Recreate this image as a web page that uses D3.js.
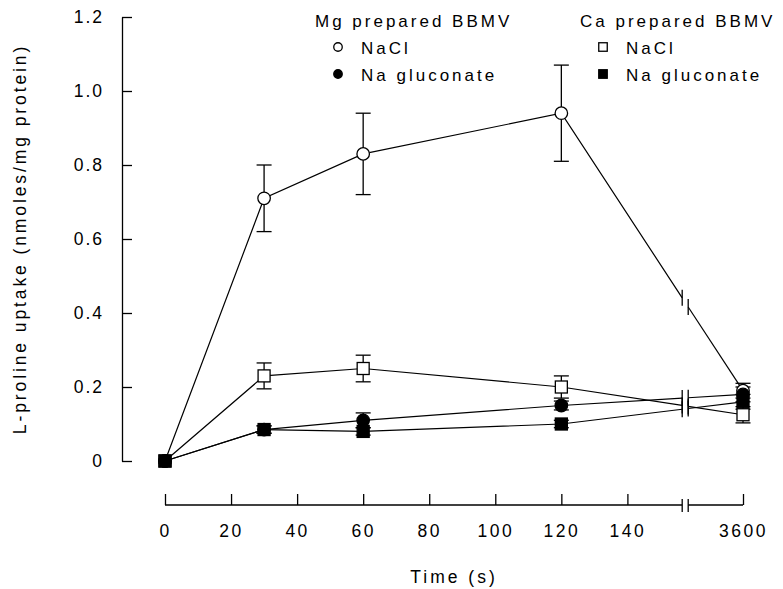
<!DOCTYPE html>
<html>
<head>
<meta charset="utf-8">
<script src="https://cdn.jsdelivr.net/npm/d3@7"></script>
<style>
body { margin: 0; background: #fff; }
text { font-family: "Liberation Sans", Arial, sans-serif; fill: #000; }
</style>
</head>
<body>
<div id="chart"></div>
<script>
// sampling times (s) and uptake values
var times = [0, 30, 60, 120, 3600];

var mgNaCl    = [0, 0.71, 0.83, 0.94, 0.19];
var mgNaClErr = [0, 0.09, 0.11, 0.13, 0.02];
var mgGluc    = [0, 0.085, 0.11, 0.15, 0.18];
var mgGlucErr = [0, 0.01, 0.02, 0.012, 0.02];
var caNaCl    = [0, 0.23, 0.25, 0.20, 0.125];
var caNaClErr = [0, 0.035, 0.036, 0.03, 0.022];
var caGluc    = [0, 0.085, 0.08, 0.10, 0.16];
var caGlucErr = [0, 0.01, 0.01, 0.01, 0.02];

var xTicks = [0, 20, 40, 60, 80, 100, 120, 140, 3600];
var yTicks = [0, 0.2, 0.4, 0.6, 0.8, 1.0, 1.2];

var series = [
	{values: mgNaCl, err: mgNaClErr, shape: "circle", filled: false},
	{values: caNaCl, err: caNaClErr, shape: "square", filled: false},
	{values: mgGluc, err: mgGlucErr, shape: "circle", filled: true},
	{values: caGluc, err: caGlucErr, shape: "square", filled: true}
];

var svg = d3.select("#chart")
	.append("svg")
	.attr("width", 783)
	.attr("height", 589);

// x: linear up to 150 s, then the broken stretch out to 3600 s
var unit = d3.scaleLinear().domain([0, 175]).range([165, 743]);
var xScale = d3.scaleLinear()
	.domain([0, 150, 3600])
	.range([unit(0), unit(150), unit(175)]);
var breakX = unit(157.5);
var bx1 = breakX - 3, bx2 = breakX + 3;

var yScale = d3.scaleLinear().domain([0, 1.2]).range([461, 17]);

var axisY = 505;

// y axis
var gy = svg.append("g")
	.attr("transform", "translate(122,0)")
	.call(d3.axisLeft(yScale)
		.tickValues(yTicks)
		.tickSize(-10)
		.tickSizeOuter(0)
		.tickPadding(18)
		.tickFormat(function(d) { return d === 0 ? "0" : d.toFixed(1); }));
gy.selectAll("path, line").attr("stroke", "#000").attr("stroke-width", 1.3);
gy.selectAll("text")
	.attr("font-family", null)
	.style("font-size", "17.5px")
	.style("letter-spacing", "2px");

// x axis
var gx = svg.append("g")
	.attr("transform", "translate(0," + axisY + ")")
	.call(d3.axisBottom(xScale)
		.tickValues(xTicks)
		.tickSize(-11)
		.tickSizeOuter(0)
		.tickPadding(20)
		.tickFormat(function(d) { return d; }));
gx.select(".domain").remove();
gx.selectAll("line").attr("stroke", "#000").attr("stroke-width", 1.3);
gx.selectAll("text")
	.attr("font-family", null)
	.style("font-size", "17.5px")
	.style("letter-spacing", "2.5px");

gx.append("line")
	.attr("x1", xScale(0)).attr("x2", bx1)
	.attr("stroke", "#000").attr("stroke-width", 1.3);
gx.append("line")
	.attr("x1", bx2).attr("x2", xScale(3600))
	.attr("stroke", "#000").attr("stroke-width", 1.3);
gx.selectAll(".brk")
	.data([bx1, bx2])
	.enter().append("line")
	.attr("x1", function(d) { return d; })
	.attr("x2", function(d) { return d; })
	.attr("y1", -6).attr("y2", 7)
	.attr("stroke", "#000").attr("stroke-width", 1.3);

svg.append("text")
	.attr("x", (xScale(0) + xScale(3600)) / 2)
	.attr("y", 583)
	.attr("text-anchor", "middle")
	.style("font-size", "17.5px")
	.style("letter-spacing", "3px")
	.text("Time (s)");

svg.append("text")
	.attr("transform", "translate(20,239) rotate(-90)")
	.attr("text-anchor", "middle")
	.attr("dominant-baseline", "central")
	.style("font-size", "17.5px")
	.style("letter-spacing", "2.9px")
	.text("L-proline uptake (nmoles/mg protein)");

// lines, with a break where they cross to 3600 s
var line = d3.line()
	.x(function(d) { return d[0]; })
	.y(function(d) { return d[1]; });

var gLines = svg.append("g");
series.forEach(function(s) {
	var pts = times.map(function(t, i) { return [xScale(t), yScale(s.values[i])]; });
	var a = pts[3], b = pts[4];
	var yAt = function(x) { return a[1] + (b[1] - a[1]) * (x - a[0]) / (b[0] - a[0]); };
	var seg1 = pts.slice(0, 4).concat([[bx1, yAt(bx1)]]);
	var seg2 = [[bx2, yAt(bx2)], b];
	[seg1, seg2].forEach(function(seg) {
		gLines.append("path")
			.attr("d", line(seg))
			.attr("fill", "none")
			.attr("stroke", "#000")
			.attr("stroke-width", 1.2);
	});
	[bx1, bx2].forEach(function(x) {
		gLines.append("line")
			.attr("x1", x).attr("x2", x)
			.attr("y1", yAt(x) - 8).attr("y2", yAt(x) + 8)
			.attr("stroke", "#000").attr("stroke-width", 1.3);
	});
});

// error bars
var gErr = svg.append("g");
series.forEach(function(s) {
	times.forEach(function(t, i) {
		var e = s.err[i];
		if (!e) return;
		var cx = xScale(t), hi = yScale(s.values[i] + e), lo = yScale(s.values[i] - e);
		gErr.append("line").attr("x1", cx).attr("x2", cx).attr("y1", hi).attr("y2", lo);
		gErr.append("line").attr("x1", cx - 7.5).attr("x2", cx + 7.5).attr("y1", hi).attr("y2", hi);
		gErr.append("line").attr("x1", cx - 7.5).attr("x2", cx + 7.5).attr("y1", lo).attr("y2", lo);
	});
});
gErr.selectAll("line").attr("stroke", "#000").attr("stroke-width", 1.3);

function marker(g, shape, filled, cx, cy, size) {
	var m;
	if (shape === "circle") {
		m = g.append("circle").attr("cx", cx).attr("cy", cy).attr("r", size / 2);
	} else {
		m = g.append("rect")
			.attr("x", cx - size / 2).attr("y", cy - size / 2)
			.attr("width", size).attr("height", size);
	}
	m.attr("fill", filled ? "#000" : "#fff")
		.attr("stroke", "#000")
		.attr("stroke-width", 1.3);
}

var gPts = svg.append("g");
series.forEach(function(s) {
	times.forEach(function(t, i) {
		marker(gPts, s.shape, s.filled, xScale(t), yScale(s.values[i]), s.shape === "circle" ? 12.5 : 12);
	});
});

// legend
var legendGroups = [
	{title: "Mg prepared BBMV", x: 315, shape: "circle"},
	{title: "Ca prepared BBMV", x: 580, shape: "square"}
];
var legendItems = ["NaCl", "Na gluconate"];

legendGroups.forEach(function(lg) {
	svg.append("text")
		.attr("x", lg.x).attr("y", 27)
		.style("font-size", "17px")
		.style("letter-spacing", "3px")
		.text(lg.title);
	legendItems.forEach(function(name, i) {
		var cy = 47 + i * 27;
		marker(svg, lg.shape, i === 1, lg.x + 23, cy, 8.5);
		svg.append("text")
			.attr("x", lg.x + 46).attr("y", cy + 6.5)
			.style("font-size", "17px")
			.style("letter-spacing", "3px")
			.text(name);
	});
});
</script>
</body>
</html>
